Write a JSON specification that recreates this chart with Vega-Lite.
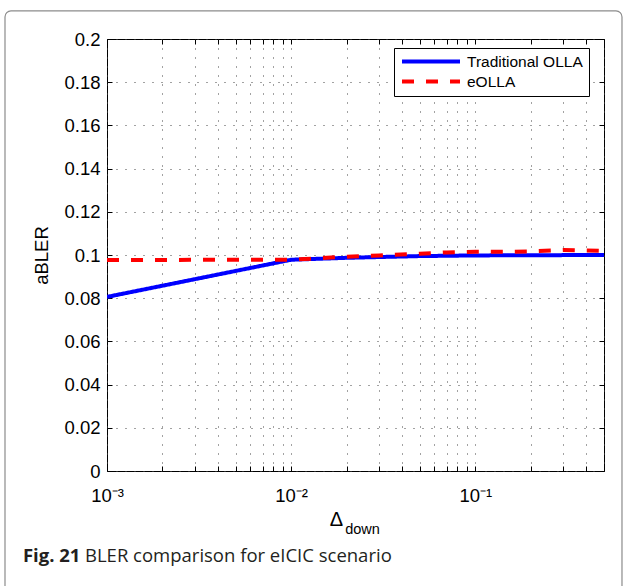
{
  "$schema": "https://vega.github.io/schema/vega-lite/v6.json",
  "width": 497,
  "height": 432,
  "padding": {"left": 4, "top": 10, "right": 0, "bottom": 0},
  "background": "white",
  "datasets": {
    "curves": [
      {"delta": 0.001, "abler": 0.0806, "series": "Traditional OLLA"},
      {"delta": 0.01, "abler": 0.0978, "series": "Traditional OLLA"},
      {"delta": 0.02, "abler": 0.0987, "series": "Traditional OLLA"},
      {"delta": 0.05, "abler": 0.0995, "series": "Traditional OLLA"},
      {"delta": 0.1, "abler": 0.0998, "series": "Traditional OLLA"},
      {"delta": 0.2, "abler": 0.0999, "series": "Traditional OLLA"},
      {"delta": 0.5, "abler": 0.1, "series": "Traditional OLLA"},
      {"delta": 0.001, "abler": 0.0977, "series": "eOLLA"},
      {"delta": 0.01, "abler": 0.0978, "series": "eOLLA"},
      {"delta": 0.02, "abler": 0.0992, "series": "eOLLA"},
      {"delta": 0.03, "abler": 0.0998, "series": "eOLLA"},
      {"delta": 0.05, "abler": 0.1006, "series": "eOLLA"},
      {"delta": 0.07, "abler": 0.1012, "series": "eOLLA"},
      {"delta": 0.1, "abler": 0.1015, "series": "eOLLA"},
      {"delta": 0.15, "abler": 0.1015, "series": "eOLLA"},
      {"delta": 0.2, "abler": 0.1017, "series": "eOLLA"},
      {"delta": 0.3, "abler": 0.1023, "series": "eOLLA"},
      {"delta": 0.5, "abler": 0.1019, "series": "eOLLA"}
    ],
    "single": [{}]
  },
  "resolve": {"axis": {"x": "independent", "y": "independent"}},
  "layer": [
    {
      "data": {"name": "single"},
      "mark": {"type": "rect", "fillOpacity": 0, "stroke": "#8c8c8c", "strokeWidth": 1.2, "cornerRadius": 6, "clip": false},
      "encoding": {
        "x": {"datum": 0.0002793, "type": "quantitative",
              "scale": {"type": "log", "domain": [0.001, 0.5], "nice": false},
              "axis": {"orient": "top", "values": [0.001,0.002,0.003,0.004,0.005,0.006,0.007,0.008,0.009,0.01,0.02,0.03,0.04,0.05,0.06,0.07,0.08,0.09,0.1,0.2,0.3,0.4,0.5],
                       "labels": false, "domain": false, "grid": false, "tickSize": -5, "title": null}},
        "x2": {"datum": 0.6261},
        "y": {"datum": 0.213, "type": "quantitative",
              "scale": {"domain": [0, 0.2], "nice": false, "zero": false},
              "axis": {"orient": "right", "values": [0,0.02,0.04,0.06,0.08,0.1,0.12,0.14,0.16,0.18,0.2],
                       "labels": false, "domain": false, "grid": false, "tickSize": -5, "title": null}},
        "y2": {"datum": -0.0694}
      }
    },
    {
      "data": {"name": "curves"},
      "mark": {"type": "line", "strokeWidth": 4, "clip": true},
      "encoding": {
        "x": {"field": "delta", "type": "quantitative",
              "scale": {"type": "log", "domain": [0.001, 0.5], "nice": false},
              "axis": {"orient": "bottom", "values": [0.001,0.002,0.003,0.004,0.005,0.006,0.007,0.008,0.009,0.01,0.02,0.03,0.04,0.05,0.06,0.07,0.08,0.09,0.1,0.2,0.3,0.4,0.5],
                       "labelExpr": "datum.value == 0.001 ? '10⁻³' : datum.value == 0.01 ? '10⁻²' : datum.value == 0.1 ? '10⁻¹' : ''",
                       "labelOverlap": false, "labelFlush": false, "labelPadding": 20,
                       "domain": false, "grid": true, "gridDash": [1, 8], "gridColor": "#444444", "gridOpacity": 1,
                       "tickSize": -5,
                       "title": "Δ", "titleX": 229, "titleY": 48, "titleBaseline": "middle", "titleAlign": "center", "titleFontSize": 20}},
        "y": {"field": "abler", "type": "quantitative",
              "scale": {"domain": [0, 0.2], "nice": false, "zero": false},
              "axis": {"orient": "left", "values": [0,0.02,0.04,0.06,0.08,0.1,0.12,0.14,0.16,0.18,0.2],
                       "format": ".2~f", "labelPadding": 12,
                       "domain": false, "grid": true, "gridDash": [1, 8], "gridColor": "#444444", "gridOpacity": 1,
                       "tickSize": -5, "title": "aBLER", "titlePadding": 12}},
        "color": {"field": "series", "type": "nominal",
                  "scale": {"domain": ["Traditional OLLA", "eOLLA"], "range": ["#0000ff", "#ff0000"]},
                  "legend": {"orient": "none", "legendX": 287, "legendY": 9, "title": null}},
        "strokeDash": {"field": "series", "type": "nominal",
                       "scale": {"domain": ["Traditional OLLA", "eOLLA"], "range": [[1, 0], [12, 12]]},
                       "legend": {"orient": "none", "legendX": 287, "legendY": 9, "title": null}}
      }
    },
    {
      "data": {"name": "single"},
      "mark": {"type": "text", "text": "Fig. 21", "font": "Open Sans", "fontWeight": "bold", "fontSize": 18.5, "align": "left", "baseline": "alphabetic", "color": "#231f20", "clip": false},
      "encoding": {
        "x": {"datum": 0.0003494, "type": "quantitative",
              "scale": {"type": "log", "domain": [0.001, 0.5], "nice": false},
              "axis": {"orient": "bottom", "labels": false, "ticks": false, "domain": false, "grid": false,
                       "title": "down", "titleX": 255, "titleY": 58, "titleBaseline": "middle", "titleAlign": "center", "titleFontSize": 14.5}},
        "y": {"datum": -0.0421, "type": "quantitative",
              "scale": {"domain": [0, 0.2], "nice": false, "zero": false}, "axis": null}
      }
    },
    {
      "data": {"name": "single"},
      "mark": {"type": "text", "text": "BLER comparison for eICIC scenario", "font": "Open Sans", "fontSize": 18.5, "align": "left", "baseline": "alphabetic", "color": "#231f20", "clip": false},
      "encoding": {
        "x": {"datum": 0.0007595, "type": "quantitative",
              "scale": {"type": "log", "domain": [0.001, 0.5], "nice": false}, "axis": null},
        "y": {"datum": -0.0421, "type": "quantitative",
              "scale": {"domain": [0, 0.2], "nice": false, "zero": false}, "axis": null}
      }
    }
  ],
  "config": {
    "view": {"stroke": "#000000", "strokeWidth": 1},
    "axis": {"labelFont": "Liberation Sans", "labelFontSize": 18.5, "labelColor": "#000000",
             "titleFont": "Liberation Sans", "titleFontSize": 18.5, "titleColor": "#000000", "titleFontWeight": "normal",
             "tickColor": "#000000", "tickWidth": 1},
    "legend": {"symbolType": "stroke", "symbolSize": 3364, "symbolStrokeWidth": 4, "clipHeight": 15,
               "labelFont": "Liberation Sans", "labelFontSize": 15.5, "labelColor": "#000000", "labelOffset": 5,
               "padding": 6, "rowPadding": 4, "strokeColor": "#000000", "fillColor": "#ffffff", "labelLimit": 0}
  }
}
